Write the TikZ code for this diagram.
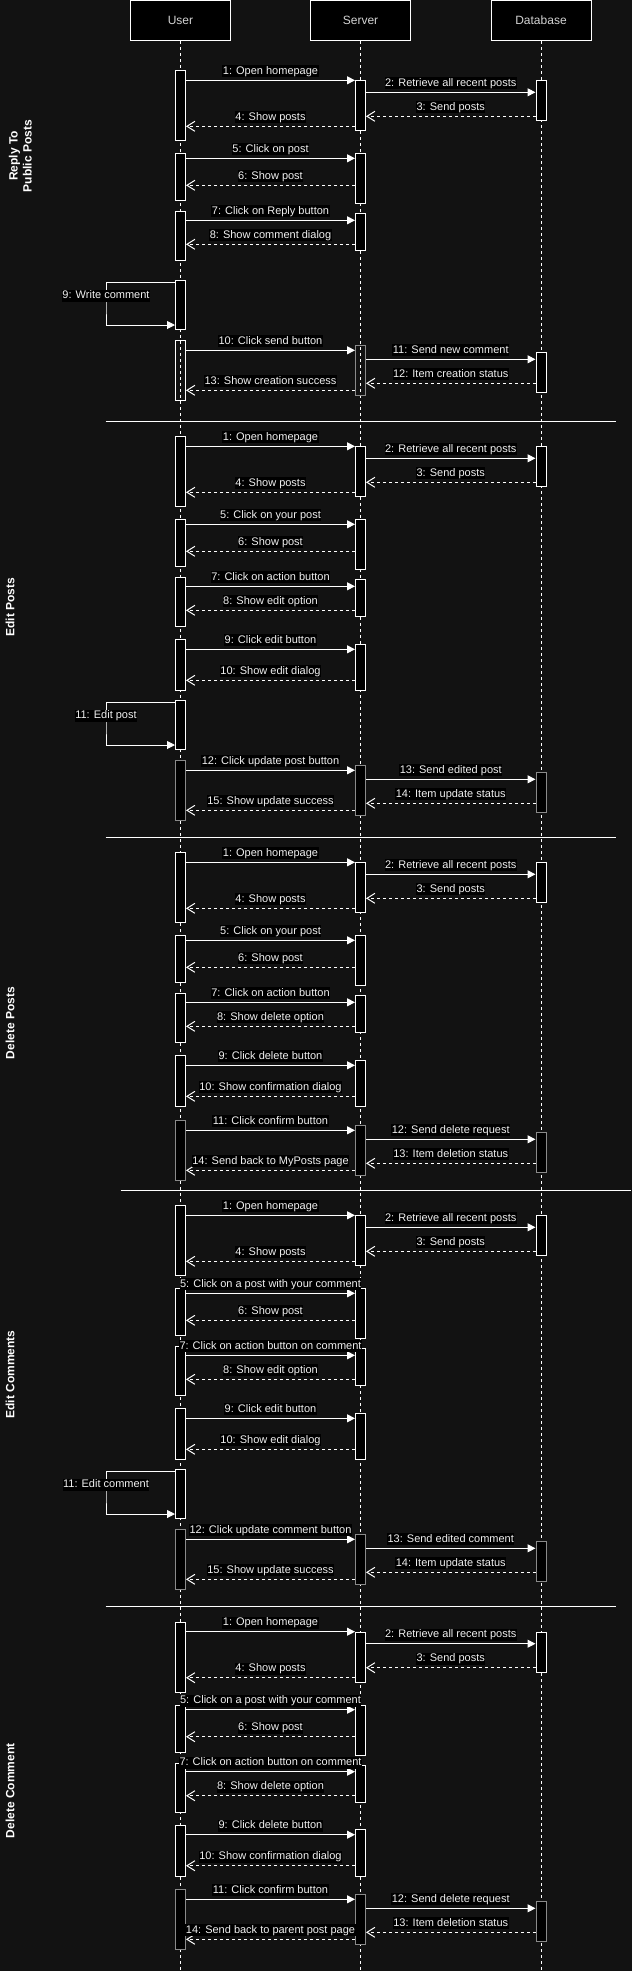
\documentclass[tikz,border=0pt]{standalone}
\usepackage{fontspec}
\setmainfont{Liberation Sans}
\usetikzlibrary{arrows.meta}

\definecolor{bgc}{HTML}{121212}
\definecolor{txtc}{HTML}{F0F0F0}
\definecolor{dimc}{HTML}{8A8A8A}

\def\xu{180.5}
\def\xs{360.5}
\def\xd{541}

\tikzset{
  actor/.style={draw=white, fill=black, line width=1pt, minimum width=100pt, minimum height=40pt,
    inner sep=0pt, text=txtc!88!black, font=\fontsize{12}{14}\selectfont},
  act/.style={draw=white, fill=black, line width=1pt, minimum width=10pt, inner sep=0pt, anchor=north},
  life/.style={white, line width=1pt, dash pattern=on 3pt off 3pt},
  call/.style={white, line width=1pt, -{Triangle[length=8pt, width=8pt]}},
  ret/.style={white, line width=1pt, dash pattern=on 3pt off 3pt, -{Straight Barb[length=8pt, width=10pt]}},
  lbltext/.style={fill=black, text=txtc, inner xsep=0.5pt, inner ysep=0pt, text height=9pt, text depth=3pt,
    font=\fontsize{11}{13}\selectfont},
  lbl/.style={lbltext, anchor=south, yshift=2.5pt},
  sepline/.style={white, line width=1pt},
  sectitle/.style={rotate=90, align=center, text=white, font=\bfseries\fontsize{12}{14}\selectfont}
}

% messages between activations
\newcommand{\msgcall}[4]{\draw[call] (#1.east |- 0,#3) -- node[lbl] {#4} (#2.west |- 0,#3);}
\newcommand{\msgback}[4]{\draw[ret] (#1.west |- 0,#3) -- node[lbl] {#4} (#2.east |- 0,#3);}

% open homepage, pick post, action button
\newcommand{\headblock}[4]{%
  \node[act, minimum height=70pt] (u1) at (\xu,0) {};
  \node[act, minimum height=50pt] (s1) at (\xs,10) {};
  \node[act, minimum height=40pt] (d1) at (\xd,10) {};
  \msgcall{u1}{s1}{10}{1: Open homepage}
  \msgcall{s1}{d1}{22}{2: Retrieve all recent posts}
  \msgback{d1}{s1}{46}{3: Send posts}
  \msgback{s1}{u1}{56}{4: Show posts}
  \node[act, minimum height=47pt] (u2) at (\xu,83) {};
  \node[act, minimum height=50pt] (s2) at (\xs,83) {};
  \msgcall{u2}{s2}{88}{#1}
  \msgback{s2}{u2}{115}{#2}
  \node[act, minimum height=49pt] (u3) at (\xu,141) {};
  \node[act, minimum height=37pt] (s3) at (\xs,143) {};
  \msgcall{u3}{s3}{150}{#3}
  \msgback{s3}{u3}{174}{#4}}

\newcommand{\editblock}[2]{%
  \node[act, minimum height=51pt] (u4) at (\xu,203) {};
  \node[act, minimum height=46.3pt] (s4) at (\xs,207.7) {};
  \msgcall{u4}{s4}{213}{#1}
  \msgback{s4}{u4}{244}{#2}}

\newcommand{\selfblock}[2]{%
  \node[act, minimum height=49pt] (u5) at (\xu,#1) {};
  \coordinate (lp) at (106,#1+23);
  \draw[call] (u5.west |- 0,#1+2) -| (lp) |- (u5.west |- 0,#1+44.7);
  \node[lbltext] (lpl) at (106,#1+15.5) {#2};}

\newcommand{\finalblock}[8]{%
  \node[act, #2, minimum height=60pt] (u6) at (\xu,#1) {};
  \node[act, #3, minimum height=50pt] (s6) at (\xs,#1+4.7) {};
  \node[act, #4, minimum height=40pt] (d6) at (\xd,#1+12) {};
  \msgcall{u6}{s6}{#1+10}{#5}
  \msgcall{s6}{d6}{#1+19}{#6}
  \msgback{d6}{s6}{#1+43}{#7}
  \msgback{s6}{u6}{#1+50}{#8}}

\begin{document}
\begin{tikzpicture}[x=1pt, y=-1pt]
  \fill[bgc] (0,0) rectangle (632,1971);
  \useasboundingbox (0,0) rectangle (632,1971);
  % Lifelines
  \node[actor] (user) at (\xu,20.5) {User};
  \node[actor] (server) at (\xs,20.5) {Server};
  \node[actor] (db) at (\xd,20.5) {Database};
  \coordinate (bottom) at (0,1971);
  \draw[life] (user) -- (user |- bottom);
  \draw[life] (server) -- (server |- bottom);
  \draw[life] (db) -- (db |- bottom);

  % Reply to public posts
  \begin{scope}[yshift=-70.3pt, name prefix=rp-]
    \headblock{5: Click on post}{6: Show post}{7: Click on Reply button}{8: Show comment dialog}
    \selfblock{210}{9: Write comment}
    \finalblock{270}{fill=none}{draw=dimc, fill=none}{}{10: Click send button}{11: Send new comment}{12: Item creation status}{13: Show creation success}
  \end{scope}

  % Edit posts
  \begin{scope}[yshift=-436.3pt, name prefix=ep-]
    \draw[sepline] (105.6,-15.3) -- (615.5,-15.3);
    \headblock{5: Click on your post}{6: Show post}{7: Click on action button}{8: Show edit option}
    \editblock{9: Click edit button}{10: Show edit dialog}
    \selfblock{264}{11: Edit post}
    \finalblock{324}{draw=dimc}{draw=dimc}{draw=dimc}{12: Click update post button}{13: Send edited post}{14: Item update status}{15: Show update success}
  \end{scope}

  % Delete posts
  \begin{scope}[yshift=-852.3pt, name prefix=dp-]
    \draw[sepline] (105.6,-15.3) -- (615.5,-15.3);
    \headblock{5: Click on your post}{6: Show post}{7: Click on action button}{8: Show delete option}
    \editblock{9: Click delete button}{10: Show confirmation dialog}
    \finalblock{268}{draw=dimc}{draw=dimc}{draw=dimc}{11: Click confirm button}{12: Send delete request}{13: Item deletion status}{14: Send back to MyPosts page}
  \end{scope}

  % Edit comments
  \begin{scope}[yshift=-1205.3pt, name prefix=ec-]
    \draw[sepline] (120.5,-15) -- (630.8,-15);
    \headblock{5: Click on a post with your comment}{6: Show post}{7: Click on action button on comment}{8: Show edit option}
    \editblock{9: Click edit button}{10: Show edit dialog}
    \selfblock{264}{11: Edit comment}
    \finalblock{324}{draw=dimc}{draw=dimc}{draw=dimc}{12: Click update comment button}{13: Send edited comment}{14: Item update status}{15: Show update success}
  \end{scope}

  % Delete comment
  \begin{scope}[yshift=-1621.7pt, name prefix=dc-]
    \draw[sepline] (105.6,-15.7) -- (615.5,-15.7);
    \headblock{5: Click on a post with your comment}{6: Show post}{7: Click on action button on comment}{8: Show delete option}
    \editblock{9: Click delete button}{10: Show confirmation dialog}
    \finalblock{267.6}{draw=dimc}{draw=dimc}{draw=dimc}{11: Click confirm button}{12: Send delete request}{13: Item deletion status}{14: Send back to parent post page}
  \end{scope}

  % Section titles
  \node[sectitle] (t1) at (20.4,156) {Reply To\\Public Posts};
  \node[sectitle] (t2) at (10,607) {Edit Posts};
  \node[sectitle] (t3) at (10,1023) {Delete Posts};
  \node[sectitle] (t4) at (10,1374.5) {Edit Comments};
  \node[sectitle] (t5) at (10,1790.7) {Delete Comment};
\end{tikzpicture}
\end{document}
